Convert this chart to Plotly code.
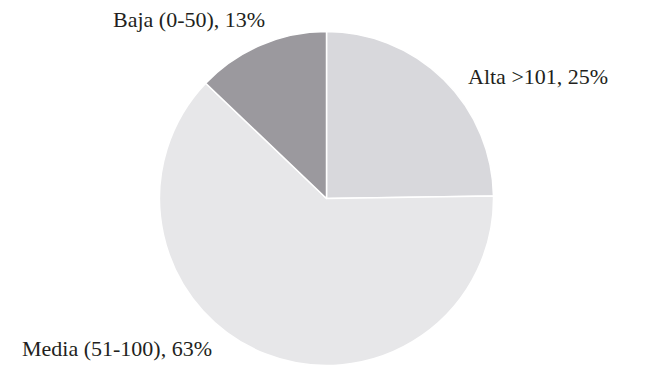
import plotly.graph_objects as go

categories = ["Alta >101", "Media (51-100)", "Baja (0-50)"]
values = [25, 63, 13]
colors = ["#d8d8dc", "#e7e7e9", "#9b999e"]

W, H = 650, 386
cx, cy, r = 326.5, 198.5, 167

fig = go.Figure(go.Pie(
    labels=categories,
    values=values,
    sort=False,
    direction="clockwise",
    rotation=0,
    marker=dict(colors=colors, line=dict(color="white", width=1.5)),
    textinfo="none",
    hoverinfo="label+value",
    showlegend=False,
    domain=dict(x=[(cx - r) / W, (cx + r) / W], y=[(H - cy - r) / H, (H - cy + r) / H]),
))

# label positions (left x, center y in pixels)
label_pos = [(466, 76), (20, 348), (111, 20)]
font = dict(family="Liberation Serif, Times New Roman, serif", size=22, color="#231f20")
for cat, val, (lx, ly) in zip(categories, values, label_pos):
    fig.add_annotation(
        text=f"{cat}, {val}%",
        x=lx / W, y=1 - ly / H, xref="paper", yref="paper",
        xanchor="left", yanchor="middle", showarrow=False, font=font,
    )

fig.update_layout(
    width=W, height=H,
    margin=dict(l=0, r=0, t=0, b=0),
    paper_bgcolor="white", plot_bgcolor="white",
)
fig.write_html("out.html")
